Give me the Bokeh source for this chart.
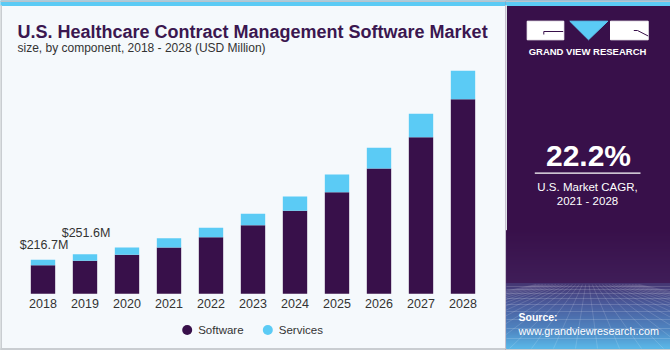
import numpy as np
from bokeh.plotting import figure
from bokeh.layouts import row
from bokeh.models import Range1d, FactorRange, ColumnDataSource
from bokeh.embed import file_html
from bokeh.resources import INLINE
from bokeh.core.properties import value

# ---------------- data ----------------
years = ["2018", "2019", "2020", "2021", "2022", "2023", "2024", "2025", "2026", "2027", "2028"]
software = [182, 210, 248, 294.5, 360, 436, 528, 646, 797, 996, 1238]
services = [34.7, 41.6, 46.5, 59, 60, 72.5, 91, 112.5, 132, 149, 180.5]
series_names = ["Software", "Services"]
label_years = ["2018", "2019"]
label_values = [216.7, 251.6]
title_text = "U.S. Healthcare Contract Management Software Market"
subtitle_text = "size, by component, 2018 - 2028 (USD Million)"
cagr_text = "22.2%"
cagr_lines = ["U.S. Market CAGR,", "2021 - 2028"]
brand_text = "GRAND VIEW RESEARCH"
source_lines = ["Source:", "www.grandviewresearch.com"]

# ---------------- style ----------------
PURPLE = "#38104a"
BLUE = "#5bcbf5"
BG = "#f5f9fc"
TXT = "#333333"
TITLE = "#3b1750"
GRAY = "#c9cdd1"
FONT = "Liberation Sans"
W_L, W_R, H = 505, 165, 350
BASE = 293.3          # pixel row of the zero line
UNITS_PER_PX = 6.36   # value units per pixel
SLOT = 42.0           # pixels per category

# ---------------- left panel (chart) ----------------
n_units = W_L / SLOT
pad = (n_units - len(years)) / 2
y0 = -(H - BASE) * UNITS_PER_PX
y1 = BASE * UNITS_PER_PX


def fx(px):
    return -pad + px / SLOT


def fy(py):
    return (BASE - py) * UNITS_PER_PX


p = figure(width=W_L, height=H, title=None,
           x_range=FactorRange(*years, range_padding=2 * pad / len(years)),
           y_range=Range1d(y0, y1), toolbar_location=None, output_backend="svg",
           min_border=0, background_fill_color=BG, border_fill_color=BG,
           outline_line_color=None, x_axis_location=None, y_axis_location=None)
p.grid.visible = False

# frame decorations (pixel positions converted to the plot's coordinates)
p.quad(left=fx(0), right=fx(W_L), top=fy(0), bottom=fy(5), color=BLUE)
p.quad(left=fx(0), right=fx(W_L), top=fy(0), bottom=fy(1), color="#b9c3cc")
p.quad(left=fx(0), right=fx(1), top=fy(5), bottom=fy(H), color=GRAY)
p.quad(left=fx(0), right=fx(W_L), top=fy(348), bottom=fy(H), color=GRAY)

p.text(x=[fx(17)], y=[fy(31)], text=[title_text], text_font=value(FONT), text_font_style="bold",
       text_font_size="18px", text_color=TITLE, text_baseline="middle")
p.text(x=[fx(17)], y=[fy(47.3)], text=[subtitle_text], text_font=value(FONT),
       text_font_size="12px", text_color=TXT, text_baseline="middle")

src = ColumnDataSource(dict(year=years, software=software, services=services))
p.vbar_stack(["software", "services"], x="year", width=0.58, color=[PURPLE, BLUE],
             line_color=None, source=src)

# category labels under the bars
p.text(x=years, y=[0] * len(years), text=years, y_offset=10, text_font=value(FONT),
       text_font_size="12.5px", text_color=TXT, text_align="center", text_baseline="middle")

label_offsets = [-14.7, -21.3]
for i, (yr, v) in enumerate(zip(label_years, label_values)):
    p.text(x=[yr], y=[v], text=[f"${v}M"], x_offset=1, y_offset=label_offsets[i],
           text_font=value(FONT), text_font_size="12.5px", text_color=TXT,
           text_align="center", text_baseline="middle")

# legend (drawn as markers + labels)
leg_px = [186.7, 267.3]
leg_py = 329.5
p.scatter(x=[fx(v) for v in leg_px], y=[fy(leg_py)] * 2, marker="circle", size=10,
          color=[PURPLE, BLUE], line_color=None)
p.text(x=[fx(v + 11) for v in leg_px], y=[fy(leg_py)] * 2, text=series_names,
       text_font=value(FONT), text_font_size="11.5px", text_color=TXT, text_baseline="middle")

# ---------------- right panel ----------------
rfig = figure(width=W_R, height=H, title=None, x_range=Range1d(0, W_R), y_range=Range1d(H, 0),
              toolbar_location=None, output_backend="svg", min_border=0,
              background_fill_color=PURPLE, border_fill_color=PURPLE, outline_line_color=None,
              x_axis_location=None, y_axis_location=None)
rfig.grid.visible = False
rfig.quad(left=0, right=W_R, top=0, bottom=5, color=BLUE)
rfig.quad(left=0, right=W_R, top=0, bottom=1, color="#b9c3cc")
rfig.quad(left=0, right=1, top=5, bottom=348, color="#dde2e7")
rfig.quad(left=0, right=W_R, top=348, bottom=H, color=GRAY)

stops_y = [230, 282, 283, 305, 330, 348]
stops_c = ["#38104a", "#3f1d58", "#453672", "#4a5d9e", "#4f86c2", "#5ab8e8"]


def hex2rgb(h):
    return np.array([int(h[i:i + 2], 16) for i in (1, 3, 5)], dtype=float)


ys = np.arange(stops_y[0], stops_y[-1])
rgbs = np.stack([hex2rgb(c) for c in stops_c])
cols = []
for yv in ys:
    rr = [np.interp(yv, stops_y, rgbs[:, k]) for k in range(3)]
    cols.append("#%02x%02x%02x" % tuple(int(round(c)) for c in rr))
rfig.quad(left=1, right=W_R, top=ys, bottom=ys + 1, color=cols)
hy = [286, 289, 293, 298, 304, 311, 319, 328, 338]
rfig.multi_line(xs=[[1, W_R]] * len(hy), ys=[[h, h] for h in hy], line_color="white",
                line_alpha=0.16, line_width=1)
xb = np.arange(-260, 430, 22)
rfig.multi_line(xs=[[82 + (x - 82) * 0.15, x] for x in xb], ys=[[284, 348]] * len(xb),
                line_color="white", line_alpha=0.14, line_width=1)

# logo
rfig.quad(left=[21.7, 105], right=[58.3, 142.7], top=[20.7, 20.7], bottom=[39.3, 39.3], color="white")
rfig.line(x=[38.3, 38.3, 57.7], y=[34, 31, 31], line_color=PURPLE, line_width=1)
rfig.line(x=[128.3, 132, 142.7], y=[30, 30, 35.5], line_color=PURPLE, line_width=1)
rfig.patch(x=[64.3, 102.3, 83], y=[20.7, 20.7, 39.3], color=BLUE)
rfig.text(x=[82], y=[51], text=[brand_text], text_font=value(FONT), text_font_style="bold",
          text_font_size="9.5px", text_color="white", text_align="center", text_baseline="middle")

rfig.text(x=[83], y=[155], text=[cagr_text], text_font=value(FONT), text_font_style="bold",
          text_font_size="30px", text_color="white", text_align="center", text_baseline="middle")
rfig.line(x=[29.3, 135], y=[172.7, 172.7], line_color="white", line_width=1.3)
rfig.text(x=[82, 82], y=[186, 200], text=cagr_lines, text_font=value(FONT),
          text_font_size="11.5px", text_color="white", text_align="center", text_baseline="middle")
rfig.text(x=[13], y=[316], text=[source_lines[0]], text_font=value(FONT), text_font_style="bold",
          text_font_size="10.5px", text_color="white", text_baseline="middle")
rfig.text(x=[13], y=[330], text=[source_lines[1]], text_font=value(FONT),
          text_font_size="10.8px", text_color="white", text_baseline="middle")

layout = row(p, rfig)
open("out.html", "w").write(file_html(layout, INLINE))
